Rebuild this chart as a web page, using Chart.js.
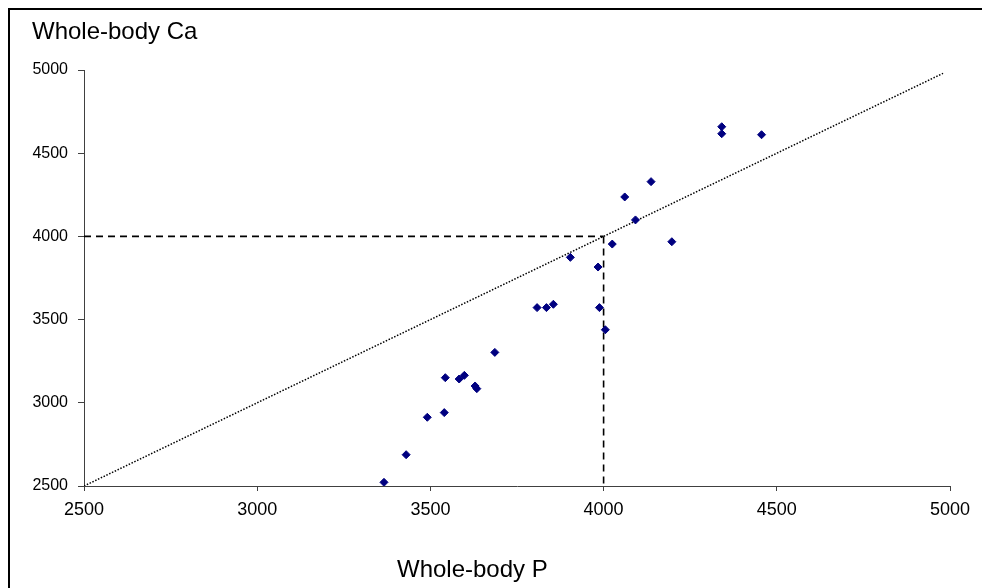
<!DOCTYPE html>
<html>
<head>
<meta charset="utf-8">
<title>Whole-body Ca vs Whole-body P</title>
<script src="https://cdn.jsdelivr.net/npm/chart.js@4.4.1/dist/chart.umd.min.js"></script>
<style>
  html, body { margin: 0; padding: 0; background: #fff; }
  #wrap { position: relative; width: 982px; height: 588px; }
</style>
</head>
<body>
<div id="wrap"><canvas id="caChart" width="982" height="588"></canvas></div>
<script>
// ── Data ─────────────────────────────────────────────
const pValues = [3366, 3430, 3491, 3540, 3543, 3583, 3598, 3629, 3634, 3686,
                 3808, 3835, 3855, 3904, 3984, 3988, 4005, 4025, 4061, 4092,
                 4137, 4197, 4341, 4341, 4456];
const caValues = [2522, 2688, 2913, 2941, 3151, 3143, 3165, 3101, 3085, 3303,
                  3572, 3572, 3592, 3874, 3816, 3572, 3439, 3954, 4237, 4099,
                  4329, 3968, 4659, 4617, 4611];

// line of identity (Ca = P)
const identityX = [2500, 4980];
const identityY = [2500, 4980];

// guide lines at 4000
const guideHX = [2500, 4000];
const guideHY = [4000, 4000];
const guideVX = [4000, 4000];
const guideVY = [4000, 2500];

const axisMin = 2500;
const axisMax = 5000;
const axisStep = 500;

const yTitle = 'Whole-body Ca';
const xTitle = 'Whole-body P';

const FONT = 'Arial, "Liberation Sans", sans-serif';

const toPoints = (xs, ys) => xs.map((x, i) => ({ x, y: ys[i] }));

// ── Frame + axis titles ──────────────────────────────
const framePlugin = {
    id: 'frame',
    beforeDraw(chart) {
        const ctx = chart.ctx;
        ctx.save();
        ctx.fillStyle = '#fff';
        ctx.fillRect(0, 0, chart.width, chart.height);
        ctx.restore();
    },
    afterDraw(chart) {
        const ctx = chart.ctx;
        ctx.save();
        // top + left border of the figure
        ctx.strokeStyle = '#000';
        ctx.lineWidth = 2;
        ctx.beginPath();
        ctx.moveTo(9, chart.height);
        ctx.lineTo(9, 9);
        ctx.lineTo(chart.width, 9);
        ctx.stroke();

        ctx.fillStyle = '#000';
        ctx.font = '24px ' + FONT;
        ctx.textBaseline = 'alphabetic';
        ctx.textAlign = 'left';
        ctx.fillText(yTitle, 32, 39);
        ctx.fillText(xTitle, 397, 577);
        ctx.restore();
    }
};

const axisColor = '#404040';
const plainTick = v => String(v);

new Chart(document.getElementById('caChart'), {
    type: 'scatter',
    data: {
        datasets: [
            {
                label: 'Subjects',
                data: toPoints(pValues, caValues),
                pointStyle: 'rectRot',
                pointRadius: 4,
                pointBorderWidth: 1,
                backgroundColor: '#000080',
                borderColor: '#000080',
                order: 0
            },
            {
                label: 'Identity',
                data: toPoints(identityX, identityY),
                showLine: true,
                pointRadius: 0,
                borderColor: '#000',
                borderWidth: 1.5,
                borderDash: [1.5, 1.6],
                order: 1
            },
            {
                label: 'Guide H',
                data: toPoints(guideHX, guideHY),
                showLine: true,
                pointRadius: 0,
                borderColor: '#000',
                borderWidth: 1.6,
                borderDash: [7, 5],
                order: 2
            },
            {
                label: 'Guide V',
                data: toPoints(guideVX, guideVY),
                showLine: true,
                pointRadius: 0,
                borderColor: '#000',
                borderWidth: 1.6,
                borderDash: [7, 5],
                order: 2
            }
        ]
    },
    options: {
        responsive: false,
        animation: false,
        devicePixelRatio: 1,
        layout: { padding: { left: 0, top: 70, right: 32, bottom: 0 } },
        plugins: {
            legend: { display: false },
            tooltip: { enabled: false }
        },
        scales: {
            x: {
                type: 'linear',
                min: axisMin,
                max: axisMax,
                afterFit: s => { s.height = 102; },
                ticks: {
                    stepSize: axisStep,
                    callback: plainTick,
                    color: '#000',
                    font: { family: FONT, size: 18 },
                    padding: 8
                },
                grid: {
                    display: true,
                    drawOnChartArea: false,
                    drawTicks: true,
                    tickLength: 5,
                    color: axisColor
                },
                border: { color: axisColor, width: 1 }
            },
            y: {
                type: 'linear',
                min: axisMin,
                max: axisMax,
                afterFit: s => { s.width = 84; },
                ticks: {
                    stepSize: axisStep,
                    callback: plainTick,
                    color: '#000',
                    font: { family: FONT, size: 16 },
                    padding: 10
                },
                grid: {
                    display: true,
                    drawOnChartArea: false,
                    drawTicks: true,
                    tickLength: 6,
                    color: axisColor
                },
                border: { color: axisColor, width: 1 }
            }
        }
    },
    plugins: [framePlugin]
});
</script>
</body>
</html>
